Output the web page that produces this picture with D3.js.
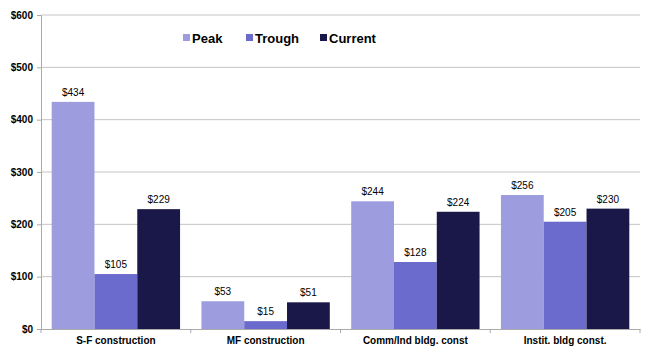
<!DOCTYPE html>
<html><head><meta charset="utf-8">
<script src="https://cdn.jsdelivr.net/npm/d3@7"></script>
<style>body{margin:0;background:#fff}svg{display:block;font-family:"Liberation Sans",Arial,sans-serif}</style>
</head><body><svg id="c" width="651" height="357"></svg>
<script>
const categories = ["S-F construction","MF construction","Comm/Ind bldg. const","Instit. bldg const."];
const seriesNames = ["Peak","Trough","Current"];
const peak = [434,53,244,256];
const trough = [105,15,128,205];
const current = [229,51,224,230];
const yTicks = [0,100,200,300,400,500,600];
const colors = ["#9c9cdf","#6b6bcd","#1a1848"];

const svg = d3.select("#c");
const m = {l:41,r:11,t:15,b:28};
const W = 651, H = 357;
const x = d3.scaleBand().domain(categories).range([m.l, W-m.r]).paddingInner(0).paddingOuter(0);
const x1 = d3.scaleBand().domain(seriesNames).range([0, x.bandwidth()]).paddingOuter(0.25).paddingInner(0);
const y = d3.scaleLinear().domain([0,600]).range([H-m.b, m.t]);

// gridlines
svg.append("g").selectAll("line").data(yTicks.filter(d=>d>0)).join("line")
  .attr("x1",m.l).attr("x2",W-m.r).attr("y1",d=>y(d)).attr("y2",d=>y(d))
  .attr("stroke","#c4c4c4").attr("stroke-width",1);

const data = [peak,trough,current];
const g = svg.append("g");
categories.forEach((c,i)=>{
  seriesNames.forEach((s,j)=>{
    const v = data[j][i];
    g.append("rect").attr("x",x(c)+x1(s)).attr("y",y(v)).attr("width",x1.bandwidth()).attr("height",y(0)-y(v))
      .attr("fill",colors[j]);
    g.append("text").attr("x",x(c)+x1(s)+x1.bandwidth()/2).attr("y",y(v)-6)
      .attr("text-anchor","middle").attr("font-size",10).attr("fill","#000").text("$"+v);
  });
});

// y axis
const ya = d3.axisLeft(y).tickValues(yTicks).tickFormat(d=>"$"+d).tickSize(4).tickPadding(4);
const yg = svg.append("g").attr("transform",`translate(${m.l},0)`).call(ya);
yg.select(".domain").attr("stroke","#aaa");
yg.selectAll(".tick line").attr("stroke","#aaa");
yg.selectAll("text").attr("font-size",10).attr("font-weight","bold").attr("fill","#000").attr("font-family","Liberation Sans, Arial");

// x axis
const xa = d3.axisBottom(x).tickSize(0).tickPadding(8);
const xg = svg.append("g").attr("transform",`translate(0,${y(0)})`).call(xa);
xg.select(".domain").attr("stroke","#aaa");
xg.selectAll("text").attr("font-size",10).attr("font-weight","bold").attr("fill","#000").attr("font-family","Liberation Sans, Arial");
xg.selectAll(".sep").data(d3.range(categories.length+1)).join("line")
  .attr("x1",i=>m.l+i*x.bandwidth()).attr("x2",i=>m.l+i*x.bandwidth()).attr("y1",0).attr("y2",4).attr("stroke","#aaa");

// legend
const legX = [183,246,320];
const lg = svg.append("g");
seriesNames.forEach((s,j)=>{
  lg.append("rect").attr("x",legX[j]).attr("y",34).attr("width",7).attr("height",7).attr("fill",colors[j]);
  lg.append("text").attr("x",legX[j]+9).attr("y",43).attr("font-size",13).attr("font-weight","bold").attr("fill","#000").text(s);
});
</script></body></html>
